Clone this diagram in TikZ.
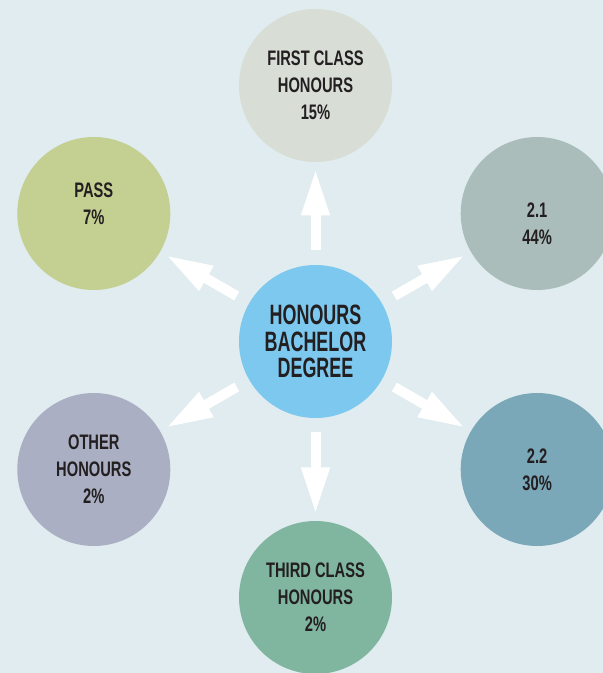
\documentclass[tikz,border=0pt]{standalone}
\usepackage{fontspec}
\setmainfont{Liberation Sans}
\newfontfamily\hubfont{Liberation Sans}[FakeStretch=0.64]
\newfontfamily\gradefont{Liberation Sans}[FakeStretch=0.70]
\usetikzlibrary{arrows.meta, calc}
\definecolor{bgBlue}{HTML}{E0ECEF}
\definecolor{hubBlue}{HTML}{7CC8EF}
\definecolor{firstGrey}{HTML}{D8DDD6}
\definecolor{upperGrey}{HTML}{ABBDBB}
\definecolor{lowerTeal}{HTML}{7BA8B8}
\definecolor{thirdGreen}{HTML}{80B6A0}
\definecolor{otherLilac}{HTML}{ABAFC3}
\definecolor{passGreen}{HTML}{C4D092}
\definecolor{textDark}{HTML}{231F20}

\begin{document}
\begin{tikzpicture}[
    x=1pt, y=1pt,
    hub/.style={circle, fill=hubBlue, minimum size=153pt, inner sep=0pt,
                align=center, text=textDark,
                font=\hubfont\bfseries\fontsize{28}{26.7}\selectfont},
    grade/.style={circle, minimum size=153pt, inner sep=0pt,
                align=center, text=textDark,
                font=\gradefont\bfseries\fontsize{21}{27}\selectfont},
    gradetext/.style={align=center, text=textDark, inner sep=0pt,
                font=\gradefont\bfseries\fontsize{21}{27}\selectfont},
    spoke/.style={draw=white, line width=10pt,
                -{Triangle[length=47pt, width=26pt]}},
  ]
    \useasboundingbox (0,0) rectangle (603,673);
    \clip (0,0) rectangle (603,673);
    \fill[bgBlue] (0,0) rectangle (603,673);

    % centre and the six grades round it
    \node[hub] (hub) at (315.5,331.5) {HONOURS\\BACHELOR\\DEGREE};
    \node[grade, fill=firstGrey] (first) at ($(hub)+(90:256)$) {FIRST CLASS\\HONOURS\\15\%};
    \node[grade, fill=upperGrey] (upper) at ($(hub)+(30:256)$) {};
    \node[grade, fill=lowerTeal] (lower) at ($(hub)+(-30:256)$) {2.2\\30\%};
    \node[grade, fill=thirdGreen] (third) at ($(hub)+(-90:256)$) {THIRD CLASS\\HONOURS\\2\%};
    \node[grade, fill=otherLilac] (other) at ($(hub)+(-150:256)$) {OTHER\\HONOURS\\2\%};
    \node[grade, fill=passGreen] (pass) at ($(hub)+(150:256)$) {};

    \node[gradetext] (uppertext) at ([yshift=-10pt]upper) {2.1\\44\%};
    \node[gradetext] (passtext) at ([yshift=10pt]pass) {PASS\\7\%};

    % arrows out of the centre
    \foreach \g in {first, upper, lower, third, other, pass}
      \draw[spoke] ($(hub)!91pt!(\g)$) -- ($(hub)!173pt!(\g)$);
\end{tikzpicture}
\end{document}
